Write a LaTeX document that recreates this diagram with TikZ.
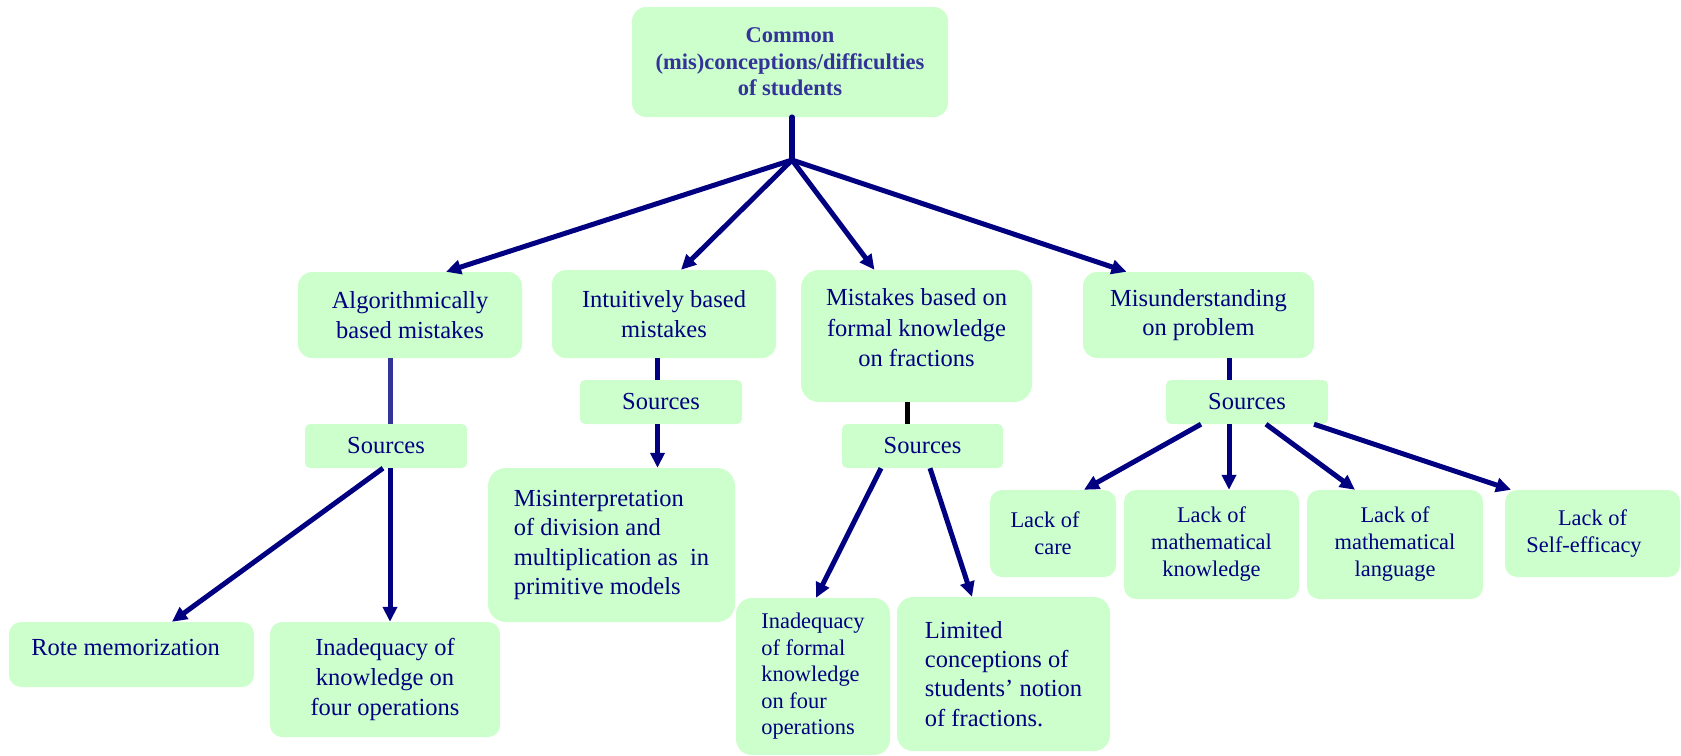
\documentclass[tikz,border=0pt]{standalone}
\usepackage{fontspec}
\setmainfont{Liberation Serif}
\usetikzlibrary{arrows.meta}
\definecolor{boxg}{HTML}{CCFFCC}
\definecolor{navy}{HTML}{000080}
\definecolor{slate}{HTML}{333399}
\tikzset{
  box/.style={fill=boxg, rounded corners=12pt, inner sep=0pt, text=navy, align=center,
              font=\fontsize{24.5}{29.5}\selectfont},
  srcbox/.style={box, rounded corners=5pt},
  smalltext/.style={font=\fontsize{22.4}{27}\selectfont},
  conn/.style={line width=5pt, draw=navy, line cap=round, line join=round},
  arr/.style={line width=5pt, draw=navy, -{Triangle[length=15pt,width=14pt]}},
}
\begin{document}
\begin{tikzpicture}[x=1pt,y=-1pt]
\useasboundingbox (0,0) rectangle (1681,755);

% boxes
\node[box, rounded corners=14pt, minimum width=316pt, minimum height=110pt, text=slate,
      font=\bfseries\fontsize{22.5}{26.5}\selectfont] (root) at (790,62)
  {Common\\(mis)conceptions/difficulties\\of students};

\node[box, rounded corners=14pt, minimum width=224pt, minimum height=86pt] (alg) at (410,315)
  {Algorithmically\\based mistakes};
\node[box, rounded corners=14pt, minimum width=224pt, minimum height=88pt] (int) at (664,314)
  {Intuitively based\\mistakes};
\node[box, rounded corners=18pt, minimum width=231pt, minimum height=132pt] (formal) at (916.5,336) {};
\node[text=navy, align=center, inner sep=0pt, font=\fontsize{24.5}{30.5}\selectfont] (formalt)
  at ([yshift=8pt]formal.center) {Mistakes based on\\formal knowledge\\on fractions};
\node[box, rounded corners=14pt, minimum width=231pt, minimum height=86pt] (mis) at (1198.5,315)
  {Misunderstanding\\on problem};

\node[srcbox, minimum width=162pt, minimum height=44pt] (srcA) at (386,446) {Sources};
\node[srcbox, minimum width=162pt, minimum height=44pt] (srcI) at (661,402) {Sources};
\node[srcbox, minimum width=161pt, minimum height=44pt] (srcF) at (922.5,446) {Sources};
\node[srcbox, minimum width=162pt, minimum height=44pt] (srcM) at (1247,402) {Sources};

\node[box, minimum width=245pt, minimum height=65pt] (rote) at (131.5,654.5) {};
\node[text=navy, inner sep=0pt, font=\fontsize{24.5}{29.5}\selectfont] (rotet)
  at ([xshift=-6pt,yshift=7pt]rote.center) {Rote memorization};
\node[box, minimum width=230pt, minimum height=115pt, font=\fontsize{24.5}{30}\selectfont] (inadK) at (385,679.5)
  {Inadequacy of\\knowledge on\\four operations};
\node[box, rounded corners=18pt, minimum width=247pt, minimum height=154pt, align=left] (misint) at (611.5,545)
  {Misinterpretation\\of division and\\multiplication as~ in\\primitive models};
\node[box, rounded corners=16pt, minimum width=154pt, minimum height=157pt, align=left,
      font=\fontsize{22.4}{26.5}\selectfont] (inadF) at (813,676.5)
  {Inadequacy\\of formal\\knowledge\\on four\\operations};
\node[box, rounded corners=16pt, minimum width=213pt, minimum height=154pt, align=left,
      font=\fontsize{24.5}{29.3}\selectfont] (lim) at (1003.5,674)
  {Limited\\conceptions of\\students’ notion\\of fractions.};

\node[box, smalltext, minimum width=126pt, minimum height=87pt] (care) at (1053,533.5)
  {Lack of\hspace*{16pt}\\care};
\node[box, smalltext, minimum width=175pt, minimum height=109pt] (lmk) at (1211.5,544.5)
  {Lack of\\mathematical\\knowledge};
\node[box, smalltext, minimum width=176pt, minimum height=109pt] (lml) at (1395,544.5)
  {Lack of\\mathematical\\language};
\node[box, smalltext, minimum width=175pt, minimum height=87pt] (lse) at (1592.5,533.5)
  {Lack of\\Self-efficacy\hspace*{17pt}};

% connectors
\coordinate (J) at (792,160);
\draw[conn, line width=5.5pt] ([xshift=2pt]root.south) -- (J);
\draw[arr] (J) -- ([xshift=36pt]alg.north);
\draw[arr] (J) -- ([xshift=17pt]int.north);
\draw[arr] (J) -- ([xshift=-42pt]formal.north);
\draw[arr] (J) -- ([xshift=-72pt]mis.north);

\draw[line width=5pt, draw=slate] ([xshift=-20pt]alg.south) -- ([xshift=-20pt]alg.south |- srcA.north);
\draw[line width=5pt, draw=navy] ([xshift=-6.5pt]int.south) -- ([xshift=-6.5pt]int.south |- srcI.north);
\draw[line width=5pt, draw=black] ([xshift=-9.5pt]formal.south) -- ([xshift=-9.5pt]formal.south |- srcF.north);
\draw[line width=5pt, draw=navy] ([xshift=30.5pt]mis.south) -- ([xshift=30.5pt]mis.south |- srcM.north);

\draw[arr] ([xshift=-3pt]srcA.south) -- ([xshift=40.5pt]rote.north);
\draw[arr] ([xshift=4pt]srcA.south) -- ([xshift=4pt]srcA.south |- inadK.north);
\draw[arr] ([xshift=-3.5pt]srcI.south) -- ([xshift=-3.5pt]srcI.south |- misint.north);
\draw[arr] ([xshift=-41.5pt]srcF.south) -- ([xshift=3pt]inadF.north);
\draw[arr] ([xshift=7.5pt]srcF.south) -- ([xshift=-31.5pt]lim.north);
\draw[arr] ([xshift=-46pt]srcM.south) -- ([xshift=31pt]care.north);
\draw[arr] ([xshift=-18pt]srcM.south) -- ([xshift=-18pt]srcM.south |- lmk.north);
\draw[arr] ([xshift=19pt]srcM.south) -- ([xshift=-40pt]lml.north);
\draw[arr] ([xshift=67pt]srcM.south) -- ([xshift=-81.5pt]lse.north);
\end{tikzpicture}
\end{document}
